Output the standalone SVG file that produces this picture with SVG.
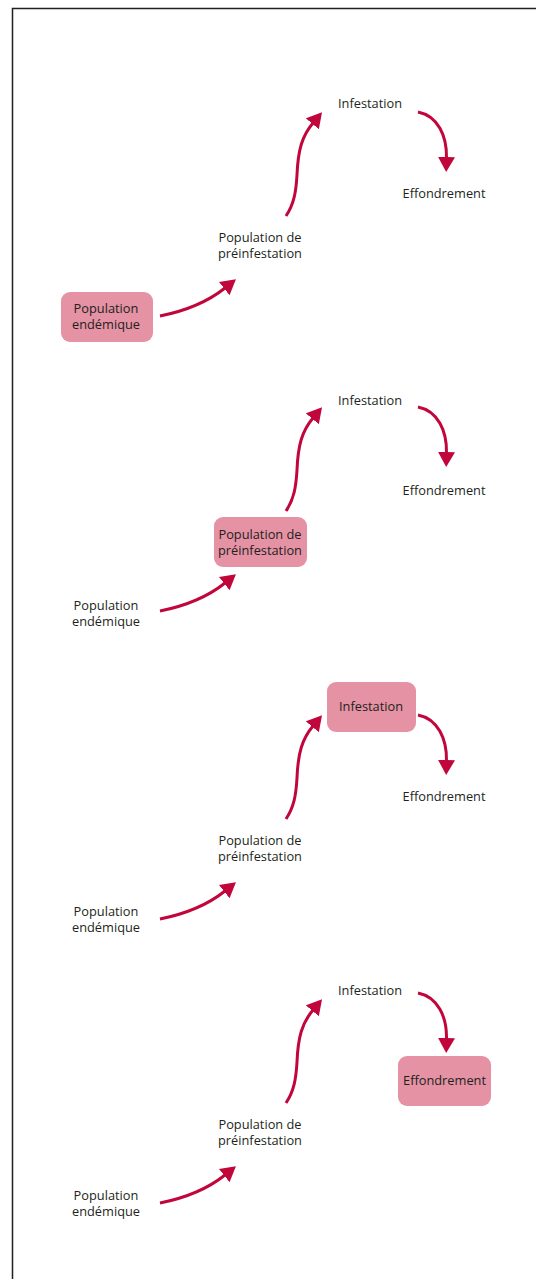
<svg xmlns="http://www.w3.org/2000/svg" width="536" height="1279" viewBox="0 0 536 1279">
<style>
.t{font-family:"Open Sans","Noto Sans","Liberation Sans",sans-serif;font-size:12.8px;fill:#231f20;text-anchor:middle}
.box{fill:#e492a4}
.c{fill:none;stroke:#c1063b;stroke-width:3;stroke-linecap:butt}
</style>
<defs>
<marker id="ah" markerUnits="userSpaceOnUse" markerWidth="15" markerHeight="17" viewBox="0 0 15 17" refX="1" refY="8.5" orient="auto">
<path d="M0,0 L15,8.5 L0,17 z" fill="#c1063b"/>
</marker>
<g id="arrows">
<path id="a1" class="c" marker-end="url(#ah)" d="M160,316 Q200,308 225,288"/>
<path id="a2" class="c" marker-end="url(#ah)" d="M286,216 C294,204 296,192 297,175 C298,150 302,136 313,123"/>
<path id="a3" class="c" marker-end="url(#ah)" d="M418,112 C438,116 447,136 446.5,158"/>
</g>
</defs>
<rect x="12.5" y="8.5" width="600" height="1400" fill="none" stroke="#231f20" stroke-width="1.5"/>

<g id="connectors">
<use href="#arrows"/>
<use href="#arrows" transform="translate(0,295)"/>
<use href="#arrows" transform="translate(0,603)"/>
<use href="#a1" transform="translate(0,887)"/>
<use href="#a2" transform="translate(0,887)"/>
<use href="#a3" transform="translate(0,881)"/>
</g>

<g id="p1-endemique"><rect class="box" x="61" y="292" width="92" height="50" rx="9"/><text class="t" x="106" y="312.5">Population</text><text class="t" x="106" y="329">endémique</text></g>
<g id="p1-preinfestation"><text class="t" x="260" y="241.5">Population de</text><text class="t" x="260" y="258">préinfestation</text></g>
<g id="p1-infestation"><text class="t" x="370" y="107.5">Infestation</text></g>
<g id="p1-effondrement"><text class="t" x="444" y="197.5">Effondrement</text></g>

<g id="p2-endemique"><text class="t" x="106" y="609.5">Population</text><text class="t" x="106" y="626">endémique</text></g>
<g id="p2-preinfestation"><rect class="box" x="214" y="517" width="93" height="50" rx="9"/><text class="t" x="260" y="538.5">Population de</text><text class="t" x="260" y="555">préinfestation</text></g>
<g id="p2-infestation"><text class="t" x="370" y="404.5">Infestation</text></g>
<g id="p2-effondrement"><text class="t" x="444" y="494.5">Effondrement</text></g>

<g id="p3-endemique"><text class="t" x="106" y="915.5">Population</text><text class="t" x="106" y="932">endémique</text></g>
<g id="p3-preinfestation"><text class="t" x="260" y="844.5">Population de</text><text class="t" x="260" y="861">préinfestation</text></g>
<g id="p3-infestation"><rect class="box" x="327" y="682" width="89" height="50" rx="9"/><text class="t" x="371" y="710.5">Infestation</text></g>
<g id="p3-effondrement"><text class="t" x="444" y="800.5">Effondrement</text></g>

<g id="p4-endemique"><text class="t" x="106" y="1199.5">Population</text><text class="t" x="106" y="1216">endémique</text></g>
<g id="p4-preinfestation"><text class="t" x="260" y="1128.5">Population de</text><text class="t" x="260" y="1145">préinfestation</text></g>
<g id="p4-infestation"><text class="t" x="370" y="994.5">Infestation</text></g>
<g id="p4-effondrement"><rect class="box" x="398" y="1056" width="93" height="50" rx="9"/><text class="t" x="444.5" y="1084.5">Effondrement</text></g>
</svg>
